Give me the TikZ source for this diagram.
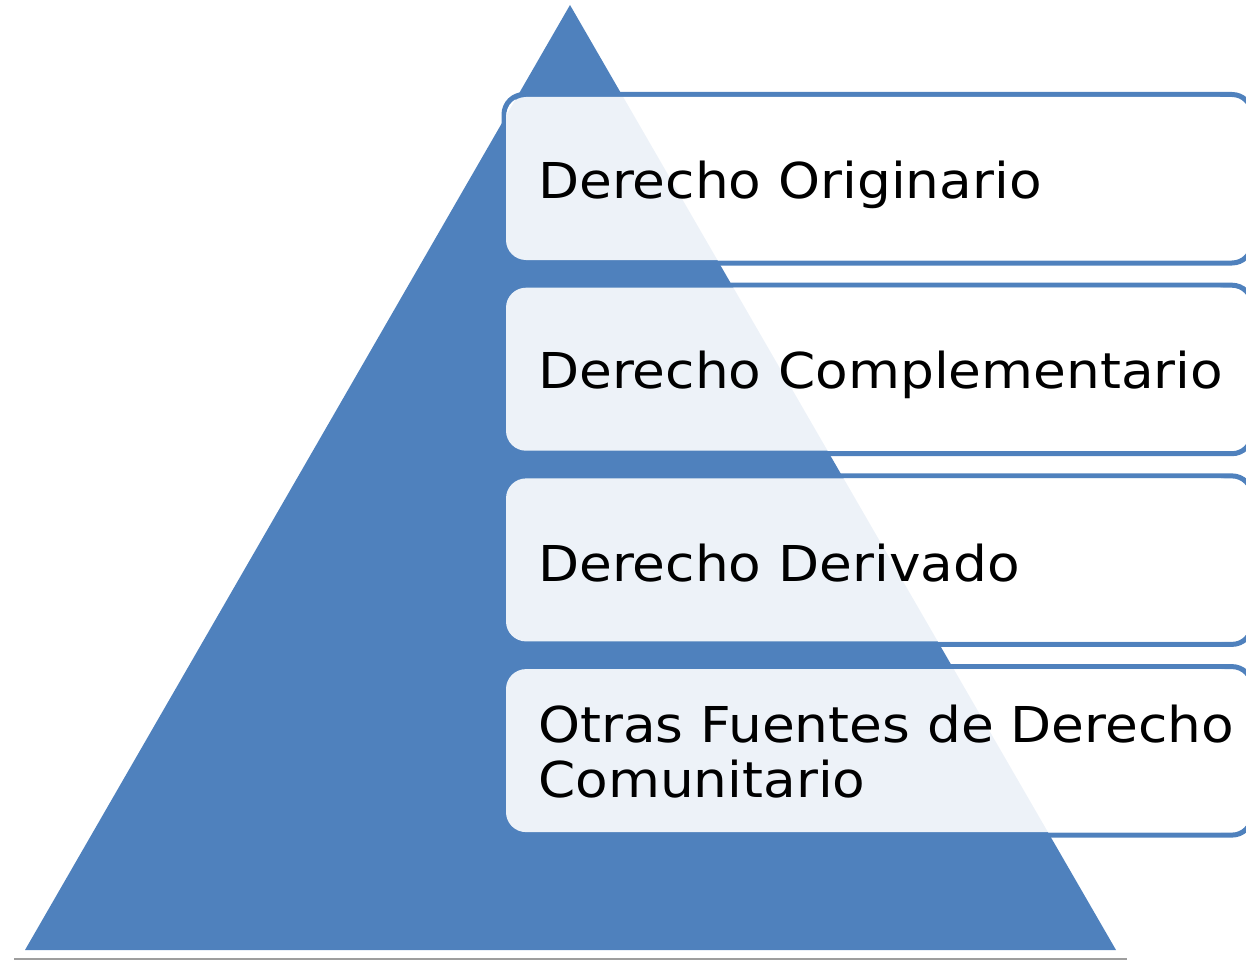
\documentclass[tikz,border=0pt]{standalone}
\usepackage{fontspec}
\newfontfamily\djs[FakeStretch=1.08]{DejaVu Sans}
\definecolor{pblue}{HTML}{4F81BD}
\tikzset{
  outerbox/.style={draw=pblue, line width=5pt, rounded corners=20pt},
  innerbox/.style={fill=white, fill opacity=0.9, rounded corners=20pt},
  lbl/.style={anchor=base west, inner sep=0pt, font=\djs\fontsize{49.4}{55}\selectfont, text=black}
}
\begin{document}
\begin{tikzpicture}[x=1pt,y=-1pt]
\useasboundingbox (0,0) rectangle (1246,960);
% base shadow line
\draw[draw=black!38, line width=2pt] (14,958.5) -- (1127,958.5);
% pyramid
\fill[pblue] (570,5) -- (1116,950) -- (25,950) -- cycle;
% boxes
\foreach \t [count=\i] in {97,287.7,478.4,669.1}{
  \draw[outerbox] (504,\t-2.5) rectangle (1252,\t+166);
  \fill[innerbox] (506,\t) rectangle (1240,\t+163);
}
\node[lbl] (t1) at (538,198) {Derecho Originario};
\node[lbl] (t2) at (538,388) {Derecho Complementario};
\node[lbl] (t3) at (538,581) {Derecho Derivado};
\node[lbl] (t4) at (538,742) {Otras Fuentes de Derecho};
\node[lbl] (t5) at (538,797) {Comunitario};
\end{tikzpicture}
\end{document}
